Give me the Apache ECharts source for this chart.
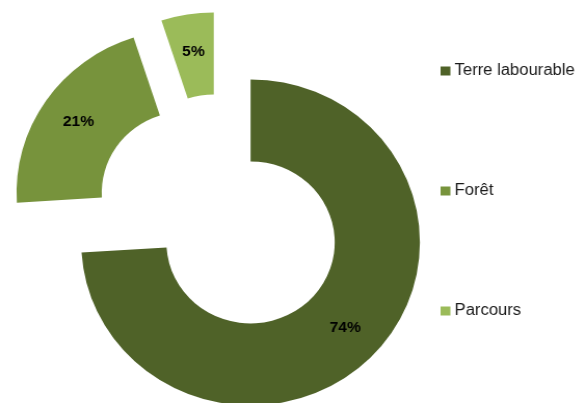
<!DOCTYPE html>
<html>
<head>
<meta charset="utf-8">
<script src="https://cdn.jsdelivr.net/npm/echarts@6/dist/echarts.min.js"></script>
<style>
  html, body { margin: 0; padding: 0; background: #fff; overflow: hidden; }
  #wrap { width: 586px; height: 403px; overflow: hidden; }
  /* the chart is drawn slightly narrower, then widened to the page width */
  #chart { width: 564px; height: 403px; transform: scaleX(1.039); transform-origin: 0 0; }
</style>
</head>
<body>
<div id="wrap"><div id="chart"></div></div>
<script>
// Land-use shares (percent)
const categories = ['Terre labourable', 'Forêt', 'Parcours'];
const values = [74, 21, 5];
const colors = ['#4f6228', '#77933c', '#9bbb59'];

const chart = echarts.init(document.getElementById('chart'), null, { renderer: 'canvas' });

const data = categories.map((name, i) => ({
  name: name,
  value: values[i],
  selected: true,
  itemStyle: { color: colors[i] }
}));

chart.setOption({
  animation: false,
  backgroundColor: '#ffffff',
  legend: {
    orient: 'vertical',
    left: 424,
    top: 63,
    padding: 0,
    icon: 'rect',
    itemWidth: 9.5,
    itemHeight: 9,
    itemGap: 104,
    selectedMode: false,
    textStyle: {
      fontFamily: 'Liberation Sans, Arial, sans-serif',
      fontSize: 16,
      color: '#1a1a1a',
      padding: [0, 0, 0, -1]
    },
    data: categories
  },
  series: [{
    type: 'pie',
    center: [212, 215],
    radius: [81, 163],
    startAngle: 90,
    clockwise: true,
    selectedMode: 'multiple',
    selectedOffset: 40,
    avoidLabelOverlap: false,
    emphasis: { disabled: true },
    label: {
      show: true,
      position: 'inside',
      formatter: '{d}%',
      fontFamily: 'Liberation Sans, Arial, sans-serif',
      fontWeight: 'bold',
      fontSize: 15,
      color: '#000'
    },
    labelLine: { show: false },
    data: data
  }]
});
</script>
</body>
</html>
